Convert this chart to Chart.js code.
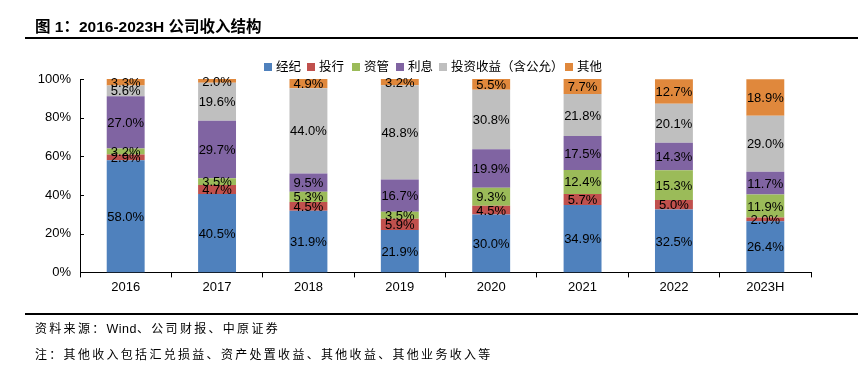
<!DOCTYPE html>
<html><head><meta charset="utf-8">
<script src="https://cdn.jsdelivr.net/npm/chart.js@4/dist/chart.umd.min.js"></script>
<style>
html,body{margin:0;padding:0;background:#fff;}
#wrap{position:relative;width:858px;height:376px;overflow:hidden;font-family:"Liberation Sans",Arial,"Noto Sans CJK SC",sans-serif;}
#title{position:absolute;left:35px;top:14px;font-size:15.5px;font-weight:bold;color:#000;}
.rule{position:absolute;left:25px;width:833px;height:2px;background:#000;}
.note{position:absolute;left:35px;font-size:12px;letter-spacing:2.3px;color:#000;}
canvas{position:absolute;left:0;top:0;}
#legend{position:absolute;top:59px;left:264px;height:16px;font-size:12.5px;color:#000;font-family:"Liberation Sans",Arial,"Noto Sans CJK SC",sans-serif;}
#legend .it{position:absolute;top:0;white-space:nowrap;line-height:16px;}
#legend .bx{display:inline-block;width:8px;height:8px;margin-right:4px;vertical-align:0px;}
</style></head>
<body><div id="wrap">
<canvas id="c" width="858" height="376"></canvas>
<div id="title">图 1：2016-2023H 公司收入结构</div>
<div class="rule" style="top:37px"></div>
<div class="rule" style="top:313px"></div>
<div id="legend"></div>
<div class="note" style="top:319px">资料来源：<span style="letter-spacing:0.5px;font-size:12.5px">Wind</span>、公司财报、中原证券</div>
<div class="note" style="top:345px">注：其他收入包括汇兑损益、资产处置收益、其他收益、其他业务收入等</div>
</div>
<script>
const categories = ["2016","2017","2018","2019","2020","2021","2022","2023H"];
const seriesNames = ["经纪","投行","资管","利息","投资收益（含公允）","其他"];
const brokerage = [58.0,40.5,31.9,21.9,30.0,34.9,32.5,26.4];
const ibanking  = [2.9,4.7,4.5,5.9,4.5,5.7,5.0,2.0];
const assetMgmt = [3.2,3.5,5.3,3.5,9.3,12.4,15.3,11.9];
const interest  = [27.0,29.7,9.5,16.7,19.9,17.5,14.3,11.7];
const investment= [5.6,19.6,44.0,48.8,30.8,21.8,20.1,29.0];
const others    = [3.3,2.0,4.9,3.2,5.5,7.7,12.7,18.9];
const yTicks = [0,20,40,60,80,100];
const colors = ["#4F81BD","#C0504D","#9BBB59","#8064A2","#BFBFBF","#E0883C"];
const seriesData = [brokerage,ibanking,assetMgmt,interest,investment,others];

// HTML legend (layout only; names/colours from the arrays above)
const legendOffsets = [0,43,88,132,175,301];
const lg = document.getElementById('legend');
seriesNames.forEach((n,i)=>{
  const it = document.createElement('div');
  it.className='it'; it.style.left = legendOffsets[i]+'px';
  const bx = document.createElement('span'); bx.className='bx'; bx.style.background=colors[i];
  it.appendChild(bx); it.appendChild(document.createTextNode(n));
  lg.appendChild(it);
});

const labelPlugin = {
  id:'segLabels',
  afterDatasetsDraw(chart){
    const ctx = chart.ctx;
    ctx.save();
    ctx.font = '13px "Liberation Sans", Arial, sans-serif';
    ctx.fillStyle = '#000';
    ctx.textAlign = 'center';
    ctx.textBaseline = 'middle';
    chart.data.datasets.forEach((ds,i)=>{
      const meta = chart.getDatasetMeta(i);
      meta.data.forEach((bar,j)=>{
        const v = ds.data[j];
        const y = (bar.y + bar.base)/2;
        ctx.fillText(v.toFixed(1)+'%', bar.x, y+1);
      });
    });
    // inward y-axis tick marks
    const ys = chart.scales.y;
    ctx.strokeStyle = '#000'; ctx.lineWidth = 1;
    ctx.beginPath();
    yTicks.forEach(v=>{
      const py = Math.round(ys.getPixelForValue(v))+0.5;
      ctx.moveTo(ys.right, py); ctx.lineTo(ys.right+4, py);
    });
    ctx.stroke();
    ctx.restore();
  }
};

new Chart(document.getElementById('c'),{
  type:'bar',
  data:{
    labels:categories,
    datasets:seriesData.map((d,i)=>({label:seriesNames[i],data:d,backgroundColor:colors[i],borderWidth:0,categoryPercentage:0.83,barPercentage:0.5}))
  },
  options:{
    responsive:false,animation:false,devicePixelRatio:1,
    layout:{padding:{top:79,left:0,right:47,bottom:79}},
    plugins:{
      legend:{display:false},
      tooltip:{enabled:false}
    },
    scales:{
      x:{stacked:true,
        grid:{display:true,drawOnChartArea:false,drawTicks:true,tickLength:5,color:'#000',offset:true},
        border:{display:true,color:'#000',width:1},
        ticks:{color:'#000',font:{size:13,family:'"Liberation Sans", Arial, sans-serif'},padding:2}
      },
      y:{stacked:true,min:0,max:100,
        afterFit(s){s.width=80;},
        afterBuildTicks(s){s.ticks=yTicks.map(v=>({value:v}));},
        grid:{display:false,drawTicks:false},
        border:{display:true,color:'#000',width:1},
        ticks:{color:'#000',padding:9,font:{size:13,family:'"Liberation Sans", Arial, sans-serif'},callback:v=>v+'%'}
      }
    }
  },
  plugins:[labelPlugin]
});
</script>
</body></html>
